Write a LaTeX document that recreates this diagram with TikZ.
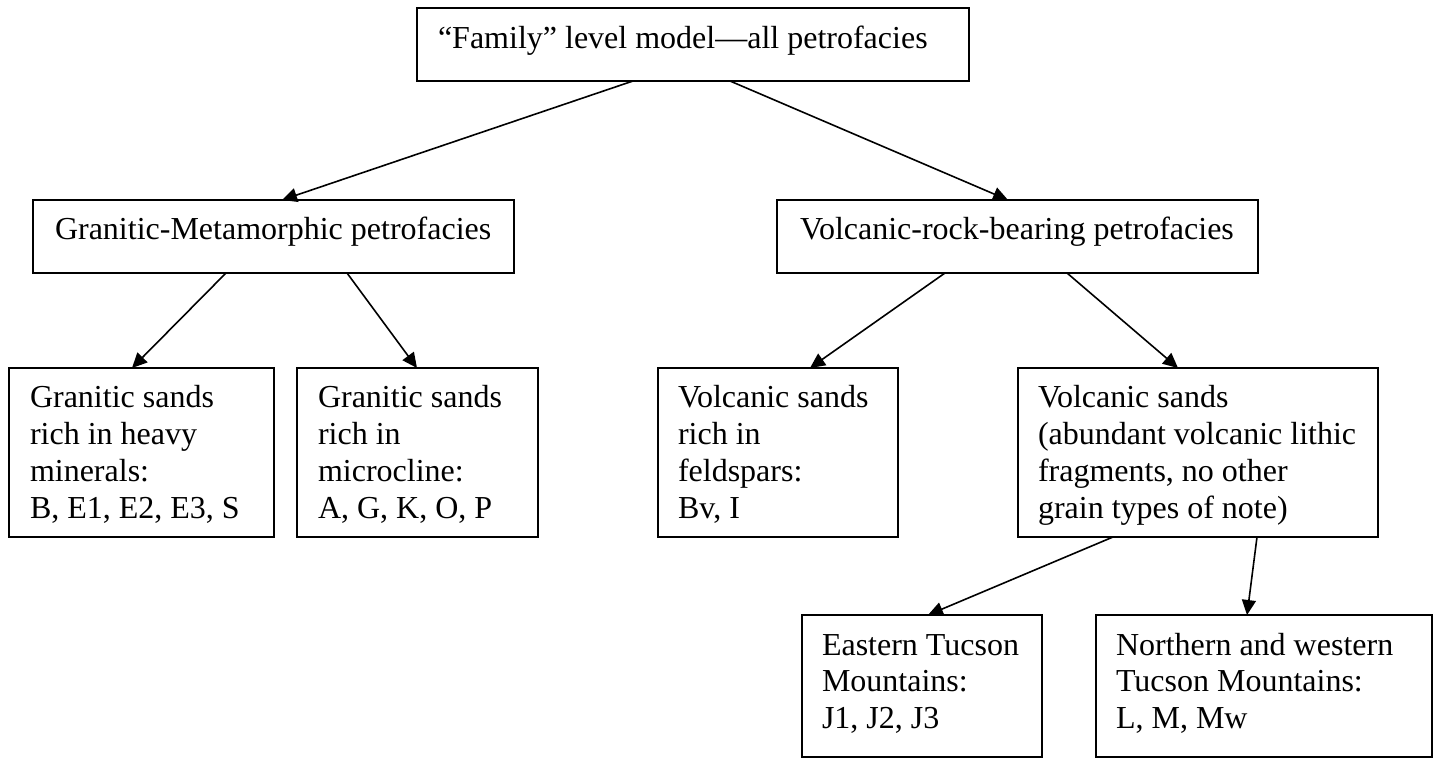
\documentclass[tikz,border=0pt]{standalone}
\usepackage{fontspec}
\setmainfont{Liberation Serif}
\usetikzlibrary{calc,arrows.meta}
\begin{document}
\begin{tikzpicture}[x=0.5pt,y=-0.5pt,
  box/.style={draw, line width=1pt, inner sep=0pt, outer sep=0pt, anchor=north west, rectangle},
  txt/.style={inner sep=0pt, outer sep=0pt, anchor=base west, align=left, font=\fontsize{16pt}{18.4pt}\selectfont},
  conn/.style={line width=0.8pt, -{Triangle[length=7.5pt,width=7pt]}}]
\fill[white] (0,0) rectangle (1440,758);
\useasboundingbox (0,0) rectangle (1440,758);

\node[box, minimum width=276pt, minimum height=36.5pt] (top) at (417,8) {};
\node[box, minimum width=240.5pt, minimum height=36.5pt] (gm) at (33,200) {};
\node[box, minimum width=240.5pt, minimum height=36.5pt] (vol) at (777,200) {};
\node[box, minimum width=132.5pt, minimum height=84.5pt] (g1) at (9,368) {};
\node[box, minimum width=120.5pt, minimum height=84.5pt] (g2) at (297,368) {};
\node[box, minimum width=120pt, minimum height=84.5pt] (v1) at (658,368) {};
\node[box, minimum width=180pt, minimum height=84.5pt] (v2) at (1018,368) {};
\node[box, minimum width=120pt, minimum height=71pt] (e) at (802,615) {};
\node[box, minimum width=168pt, minimum height=71pt] (n) at (1096,615) {};

% single-line texts: base at first baseline; multi-line: base at last baseline
\node[txt] (topT) at ($(top.north west)+(21,41)$) {“Family” level model—all petrofacies};
\node[txt] (gmT) at ($(gm.north west)+(22,40)$) {Granitic-Metamorphic petrofacies};
\node[txt] (volT) at ($(vol.north west)+(23,40)$) {Volcanic-rock-bearing petrofacies};
\node[txt] (g1T) at ($(g1.north west)+(21,150.4)$) {Granitic sands\\rich in heavy\\minerals:\\B, E1, E2, E3, S};
\node[txt] (g2T) at ($(g2.north west)+(21,150.4)$) {Granitic sands\\rich in\\microcline:\\A, G, K, O, P};
\node[txt] (v1T) at ($(v1.north west)+(20,150.4)$) {Volcanic sands\\rich in\\feldspars:\\Bv, I};
\node[txt] (v2T) at ($(v2.north west)+(20,150.4)$) {Volcanic sands\\(abundant volcanic lithic\\fragments, no other\\grain types of note)};
\node[txt] (eT) at ($(e.north west)+(20,113.6)$) {Eastern Tucson\\Mountains:\\J1, J2, J3};
\node[txt] (nT) at ($(n.north west)+(20,113.6)$) {Northern and western\\Tucson Mountains:\\L, M, Mw};

\draw[conn] ($(top.south west)+(216,0)$) -- ($(gm.north west)+(249,0)$);
\draw[conn] ($(top.south west)+(313,0)$) -- ($(vol.north west)+(231,0)$);
\draw[conn] ($(gm.south west)+(193,0)$) -- ($(g1.north west)+(123,0)$);
\draw[conn] ($(gm.south west)+(314,0)$) -- ($(g2.north west)+(120,0)$);
\draw[conn] ($(vol.south west)+(168,0)$) -- ($(v1.north west)+(152,0)$);
\draw[conn] ($(vol.south west)+(290,0)$) -- ($(v2.north west)+(160,0)$);
\draw[conn] ($(v2.south west)+(95,0)$) -- ($(e.north west)+(126,0)$);
\draw[conn] ($(v2.south west)+(239,0)$) -- ($(n.north west)+(151,0)$);
\end{tikzpicture}
\end{document}
